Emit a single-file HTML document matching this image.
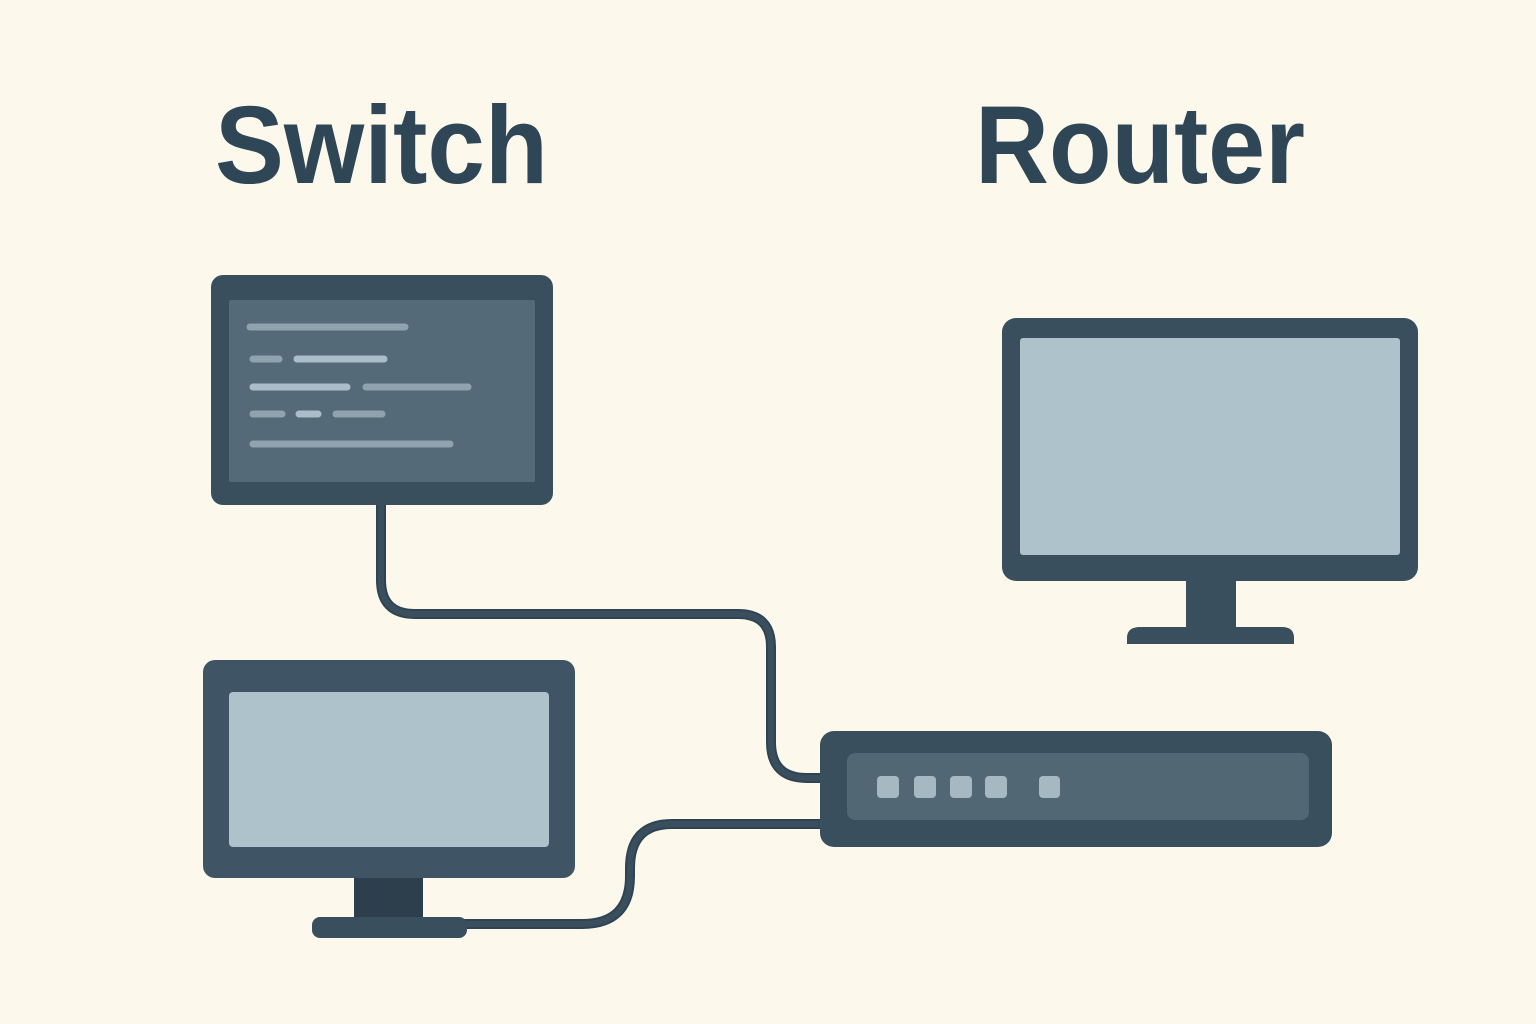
<!DOCTYPE html>
<html><head><meta charset="utf-8"><style>html,body{margin:0;padding:0;background:#fdf8ec}svg{display:block}</style></head>
<body>
<svg width="1536" height="1024" viewBox="0 0 1536 1024" xmlns="http://www.w3.org/2000/svg">
<rect width="1536" height="1024" fill="#fdf8ec"/>
<g font-family="Liberation Sans, sans-serif" font-weight="bold" font-size="110" fill="#2f4656">
<text x="215" y="183" textLength="333" lengthAdjust="spacingAndGlyphs">Switch</text>
<text x="975" y="183" textLength="330" lengthAdjust="spacingAndGlyphs">Router</text>
</g>
<!-- cables -->
<g fill="none" stroke="#2f4353" stroke-width="10">
<path d="M381 500 V580 Q381 614 415 614 H738 Q771 614 771 647 V742 Q771 778 807 778 H826"/>
<path d="M440 924 H582 Q630 924 630 876 V868 Q630 824 672 824 H826"/>
</g>
<g fill="none" stroke="#3a4f5e" stroke-width="6">
<path d="M381 500 V580 Q381 614 415 614 H738 Q771 614 771 647 V742 Q771 778 807 778 H826"/>
<path d="M440 924 H582 Q630 924 630 876 V868 Q630 824 672 824 H826"/>
</g>
<!-- top monitor -->
<rect x="211" y="275" width="342" height="230" rx="12" fill="#3a4f5e"/>
<rect x="229" y="300" width="306" height="182" rx="2" fill="#546a78"/>
<g stroke-linecap="round" stroke-width="7">
<line x1="250" y1="327" x2="405" y2="327" stroke="#8ea3ae"/>
<line x1="253" y1="359" x2="279" y2="359" stroke="#8ea3ae"/>
<line x1="297" y1="359" x2="384" y2="359" stroke="#a9bec8"/>
<line x1="253" y1="387" x2="347" y2="387" stroke="#a9bec8"/>
<line x1="366" y1="387" x2="468" y2="387" stroke="#8ea3ae"/>
<line x1="253" y1="414" x2="282" y2="414" stroke="#8ea3ae"/>
<line x1="299" y1="414" x2="318" y2="414" stroke="#a9bec8"/>
<line x1="336" y1="414" x2="382" y2="414" stroke="#8ea3ae"/>
<line x1="253" y1="444" x2="450" y2="444" stroke="#8ea3ae"/>
</g>
<!-- bottom-left monitor -->
<rect x="354" y="874" width="69" height="46" fill="#2d3f4c"/>
<rect x="312" y="917" width="155" height="21" rx="8" fill="#3a4f5e"/>
<rect x="203" y="660" width="372" height="218" rx="12" fill="#3f5565"/>
<rect x="229" y="692" width="320" height="155" rx="4" fill="#adc2cb"/>
<!-- router -->
<rect x="820" y="731" width="512" height="116" rx="14" fill="#3a4f5e"/>
<rect x="847" y="753" width="462" height="67" rx="8" fill="#516774"/>
<g fill="#a6b8c2">
<rect x="877" y="776" width="22" height="22" rx="4"/>
<rect x="914" y="776" width="22" height="22" rx="4"/>
<rect x="950" y="776" width="22" height="22" rx="4"/>
<rect x="985" y="776" width="22" height="22" rx="4"/>
<rect x="1039" y="776" width="21" height="22" rx="4"/>
</g>
<!-- right monitor -->
<rect x="1186" y="578" width="50" height="52" fill="#3a4f5e"/>
<path d="M1127 644 V638 Q1127 627 1140 627 H1282 Q1294 627 1294 638 V644 Z" fill="#3a4f5e"/>
<rect x="1002" y="318" width="416" height="263" rx="14" fill="#3a4f5e"/>
<rect x="1020" y="338" width="380" height="217" rx="3" fill="#adc2cb"/>
</svg>
</body></html>
